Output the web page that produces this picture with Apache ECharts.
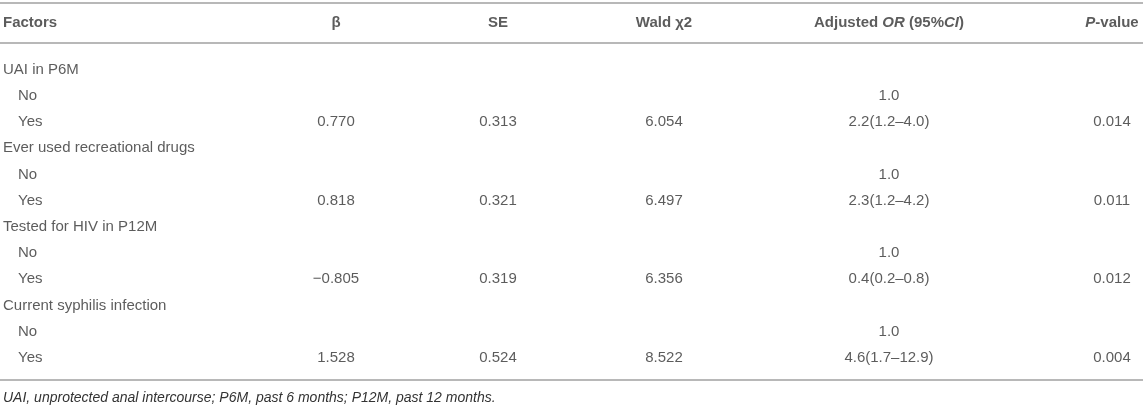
<!DOCTYPE html>
<html lang="en">
<head>
  <meta charset="UTF-8">
  <title>Multivariate logistic regression</title>
</head>
<body>
<div id="chart"></div>
<style>
  html, body {
    margin: 0;
    width: 100%;
    height: 100%;
    background: #fff;
  }
  #chart {
    width: 1143px;
    height: 405px;
  }
</style>
<script src="https://cdn.jsdelivr.net/npm/echarts@6/dist/echarts.min.js"></script>
<script>
  // table content
  const headers = ['Factors', 'β', 'SE', 'Wald χ2', 'Adjusted {i|OR} (95%{i|CI})', '{i|P}-value'];
  const factors = [
    'UAI in P6M', 'No', 'Yes',
    'Ever used recreational drugs', 'No', 'Yes',
    'Tested for HIV in P12M', 'No', 'Yes',
    'Current syphilis infection', 'No', 'Yes'
  ];
  const beta = [null, null, '0.770', null, null, '0.818', null, null, '−0.805', null, null, '1.528'];
  const se = [null, null, '0.313', null, null, '0.321', null, null, '0.319', null, null, '0.524'];
  const wald = [null, null, '6.054', null, null, '6.497', null, null, '6.356', null, null, '8.522'];
  const adjOR = [null, '1.0', '2.2(1.2–4.0)', null, '1.0', '2.3(1.2–4.2)', null, '1.0', '0.4(0.2–0.8)', null, '1.0', '4.6(1.7–12.9)'];
  const pValue = [null, null, '0.014', null, null, '0.011', null, null, '0.012', null, null, '0.004'];
  const note = 'UAI, unprotected anal intercourse; P6M, past 6 months; P12M, past 12 months.';

  // layout: column anchors on a 0..1143 x scale
  const colX = [3, 336, 498, 664, 889, 1112];
  const colAlign = ['left', 'center', 'center', 'center', 'center', 'center'];
  const FONT = '"Liberation Sans", Arial, Helvetica, sans-serif';
  const TXT = '#333';
  const RULE = { show: true, onZero: false, lineStyle: { color: '#b8b8b8', width: 2 } };

  const chart = echarts.init(document.getElementById('chart'));

  function ruleAxis(grid, position, offset) {
    return {
      type: 'value', gridIndex: grid, position: position, offset: offset || 0,
      min: 0, max: 1143,
      axisLine: RULE, axisTick: { show: false }, axisLabel: { show: false }, splitLine: { show: false }
    };
  }

  const cols = [factors, beta, se, wald, adjOR, pValue];

  function textSeries(name, column) {
    const data = [];
    column.forEach((v, i) => {
      if (v !== null) data.push([colX[cols.indexOf(column)], i, v]);
    });
    return {
      name: name, type: 'scatter', xAxisIndex: 2, yAxisIndex: 1,
      symbolSize: 0, silent: true, data: data,
      label: {
        show: true, position: 'inside', formatter: p => p.value[2],
        align: 'center', verticalAlign: 'middle',
        color: TXT, fontSize: 15, fontFamily: FONT
      }
    };
  }

  const factorSeries = {
    name: 'Factors', type: 'scatter', xAxisIndex: 2, yAxisIndex: 1,
    symbolSize: 0, silent: true,
    data: factors.map((f, i) => ({
      value: [colX[0], i, f],
      label: { padding: (f === 'No' || f === 'Yes') ? [0, 0, 0, 15] : 0 }
    })),
    label: {
      show: true, position: 'inside', formatter: p => p.value[2],
      align: 'left', verticalAlign: 'middle',
      color: TXT, fontSize: 15, fontFamily: FONT
    }
  };

  const headerSeries = {
    name: 'Header', type: 'scatter', xAxisIndex: 0, yAxisIndex: 0,
    symbolSize: 0, silent: true,
    data: headers.map((h, c) => ({
      value: [colX[c], 0, h],
      label: { align: colAlign[c] }
    })),
    label: {
      show: true, position: 'inside', formatter: p => p.value[2],
      verticalAlign: 'middle',
      color: TXT, fontSize: 15, fontWeight: 'bold', fontFamily: FONT,
      rich: {
        i: { fontStyle: 'italic', fontWeight: 'bold', fontSize: 15, fontFamily: FONT, color: TXT }
      }
    }
  };

  chart.setOption({
    animation: false,
    title: {
      text: note, left: 3, top: 391, padding: 0,
      textStyle: { fontStyle: 'italic', fontWeight: 'normal', fontSize: 14, color: TXT, fontFamily: FONT }
    },
    grid: [
      { left: 0, right: 0, top: 3, height: 40 },
      { left: 0, right: 0, top: 56.5, height: 314.4 }
    ],
    xAxis: [
      ruleAxis(0, 'top'),
      ruleAxis(0, 'bottom'),
      ruleAxis(1, 'bottom', 8.5)
    ],
    yAxis: [
      { type: 'category', gridIndex: 0, data: ['header'], show: false },
      { type: 'category', gridIndex: 1, inverse: true, data: factors.map((f, i) => String(i)), show: false }
    ],
    series: [
      headerSeries,
      factorSeries,
      textSeries('β', beta),
      textSeries('SE', se),
      textSeries('Wald χ2', wald),
      textSeries('Adjusted OR', adjOR),
      textSeries('P-value', pValue)
    ]
  });
</script>
</body>
</html>
